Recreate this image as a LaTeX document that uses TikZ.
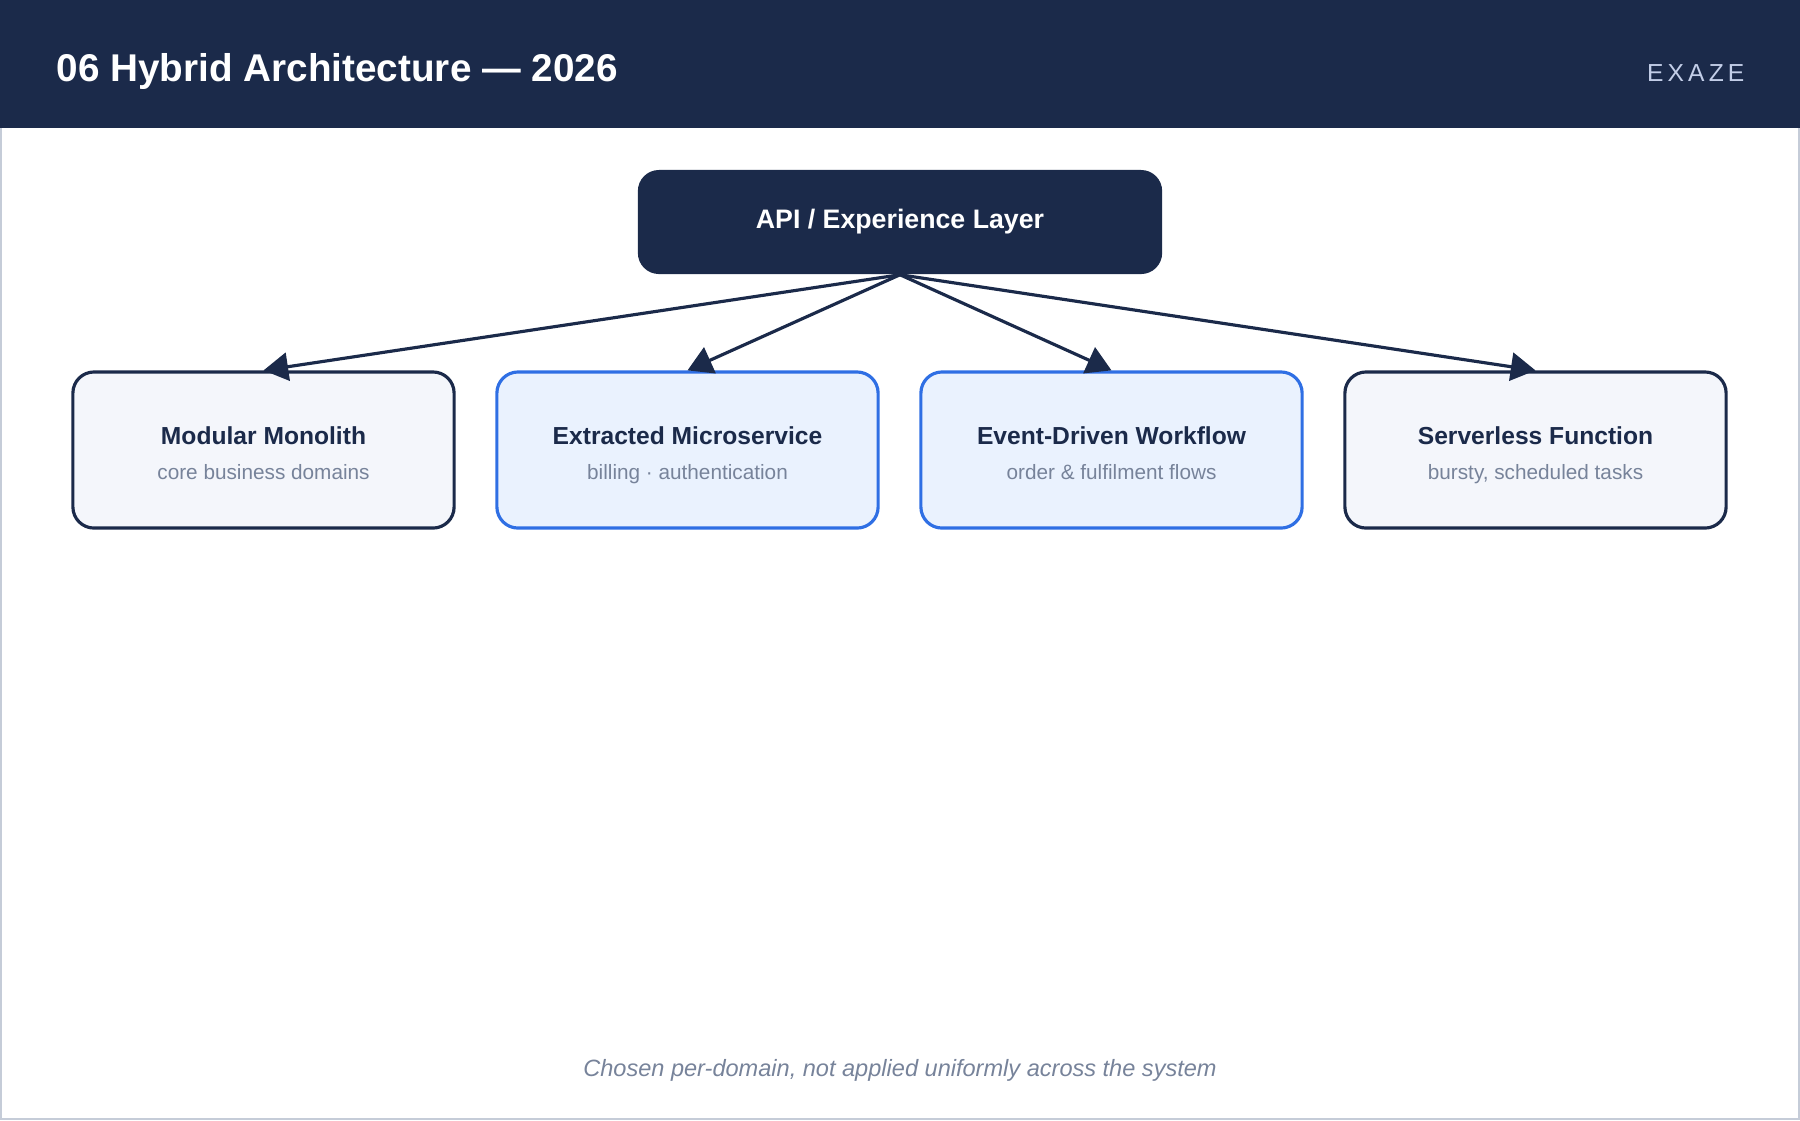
\documentclass[tikz,border=0pt]{standalone}
\usepackage{fontspec}
\setmainfont{Liberation Sans}
\usetikzlibrary{arrows.meta,positioning}
\definecolor{navy}{HTML}{1B2A4A}
\definecolor{mute}{HTML}{77839A}
\definecolor{paleA}{HTML}{F4F6FB}
\definecolor{paleB}{HTML}{EAF2FE}
\definecolor{blueline}{HTML}{2F6FE4}
\definecolor{frame}{HTML}{C5CCD8}
\definecolor{brand}{HTML}{C3CEE8}
\tikzset{
    box/.style={draw=navy, line width=0.9pt, fill=paleA, rounded corners=6pt,
        minimum width=3.81cm, minimum height=1.56cm, inner sep=0pt},
    hot/.style={box, draw=blueline, fill=paleB},
    head/.style={anchor=base, font=\fontsize{7.0}{8}\selectfont\bfseries, text=navy},
    sub/.style={anchor=base, font=\fontsize{5.9}{7}\selectfont, text=mute},
    link/.style={-{Triangle[length=7pt,width=8pt]}, draw=navy, line width=0.9pt}
}
\begin{document}
\begin{tikzpicture}[x=0.01cm,y=-0.01cm]
    \useasboundingbox (0,0) rectangle (1800,1120);
    \draw[frame, line width=0.8pt] (1,1) rectangle (1799,1119);
    \fill[navy] (0,0) rectangle (1800,128);
    \node[anchor=base west, inner sep=0pt, text=white, font=\fontsize{11}{12}\selectfont\bfseries] (title) at (56,81) {06 Hybrid Architecture — 2026};
    \node[anchor=base east, inner sep=0pt, text=brand, font=\fontsize{7}{8}\selectfont] (brand) at (1745,81) {E\,X\,A\,Z\,E};

    \node[fill=navy, rounded corners=6pt, minimum width=5.24cm, minimum height=1.04cm,
        text=white, font=\fontsize{7.6}{9}\selectfont\bfseries] (api) at (900,222) {API / Experience Layer};

    \node[box] (mono) at (263.5,450) {};
    \node[hot] (micro) at (687.5,450) {};
    \node[hot] (event) at (1111.5,450) {};
    \node[box] (fn) at (1535.5,450) {};

    \node[head] at ([yshift=-21pt]mono.north) {Modular Monolith};
    \node[sub] at ([yshift=-31pt]mono.north) {core business domains};
    \node[head] at ([yshift=-21pt]micro.north) {Extracted Microservice};
    \node[sub] at ([yshift=-31pt]micro.north) {billing · authentication};
    \node[head] at ([yshift=-21pt]event.north) {Event-Driven Workflow};
    \node[sub] at ([yshift=-31pt]event.north) {order \& fulfilment flows};
    \node[head] at ([yshift=-21pt]fn.north) {Serverless Function};
    \node[sub] at ([yshift=-31pt]fn.north) {bursty, scheduled tasks};

    \draw[link] (api.south) -- (mono.north);
    \draw[link] (api.south) -- (micro.north);
    \draw[link] (api.south) -- (event.north);
    \draw[link] (api.south) -- (fn.north);

    \node[anchor=base, text=mute, font=\fontsize{6.7}{8}\selectfont\itshape] (note) at (900,1076) {Chosen per-domain, not applied uniformly across the system};
\end{tikzpicture}
\end{document}
